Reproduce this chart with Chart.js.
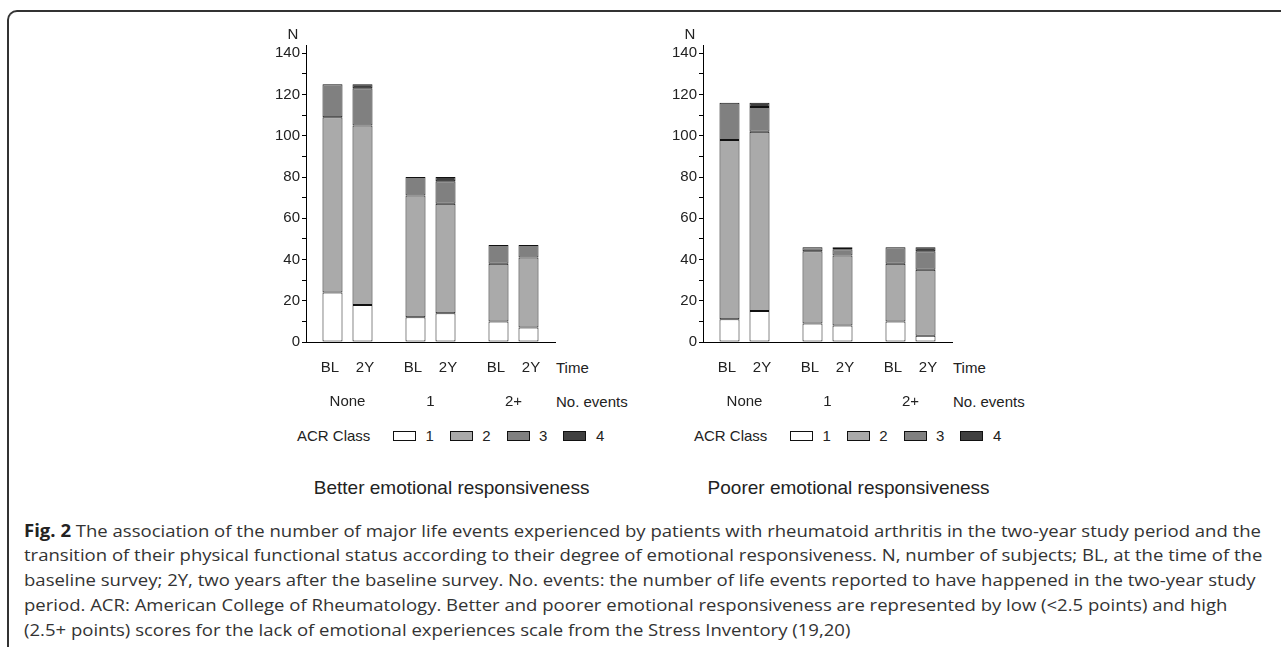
<!DOCTYPE html>
<html><head><meta charset="utf-8">
<script src="https://cdn.jsdelivr.net/npm/chart.js@4.4.0/dist/chart.umd.min.js"></script>
<style>
html,body{margin:0;padding:0;background:#fff;width:1281px;height:647px;overflow:hidden;position:relative;font-family:"Liberation Sans",Arial,sans-serif;}
.frame{position:absolute;left:7px;top:10px;width:1274px;height:637px;border-left:2px solid #333;border-top:2px solid #333;border-top-left-radius:10px;box-sizing:border-box;}
.cw{position:absolute;top:20px;width:300px;height:400px;}
.t{position:absolute;font-size:15px;color:#222;white-space:nowrap;line-height:18px;}
.sub{position:absolute;font-size:19px;color:#222;white-space:nowrap;line-height:22px;}
.box{position:absolute;width:21px;height:8px;border:1px solid #111;}
.cap{position:absolute;left:24px;font-family:"Open Sans",sans-serif;font-size:17px;color:#333;white-space:nowrap;line-height:25px;transform-origin:0 50%;}
.cap b{color:#222;}
</style>
</head>
<body>
<div class="frame"></div>
<div class="cw" id="w0" style="left:256px"><canvas id="c0" width="300" height="400"></canvas></div>
<div class="cw" id="w1" style="left:653px"><canvas id="c1" width="300" height="400"></canvas></div>
<div id="overlay"></div>
<div id="caption"></div>
<script>
// ---- data ----
const categories = ['None', '1', '2+'];
const times = ['BL', '2Y'];
const acrClasses = ['1', '2', '3', '4'];
const panelTitles = ['Better emotional responsiveness', 'Poorer emotional responsiveness'];
const yTickLabels = [0, 20, 40, 60, 80, 100, 120, 140];

// Better emotional responsiveness
const betterBL1 = [24, 12, 10];
const betterBL2 = [85, 59, 28];
const betterBL3 = [16, 9, 9];
const betterBL4 = [0, 0, 0];
const better2Y1 = [18, 14, 7];
const better2Y2 = [87, 53, 34];
const better2Y3 = [18, 11, 6];
const better2Y4 = [2, 2, 0];

// Poorer emotional responsiveness
const poorerBL1 = [11, 9, 10];
const poorerBL2 = [87, 35, 28];
const poorerBL3 = [18, 2, 8];
const poorerBL4 = [0, 0, 0];
const poorer2Y1 = [15, 8, 3];
const poorer2Y2 = [87, 34, 32];
const poorer2Y3 = [12, 3, 9];
const poorer2Y4 = [2, 1, 2];

const captionLines = [
  ['Fig. 2', ' The association of the number of major life events experienced by patients with rheumatoid arthritis in the two-year study period and the'],
  ['', 'transition of their physical functional status according to their degree of emotional responsiveness. N, number of subjects; BL, at the time of the'],
  ['', 'baseline survey; 2Y, two years after the baseline survey. No. events: the number of life events reported to have happened in the two-year study'],
  ['', 'period. ACR: American College of Rheumatology. Better and poorer emotional responsiveness are represented by low (<2.5 points) and high'],
  ['', '(2.5+ points) scores for the lack of emotional experiences scale from the Stress Inventory (19,20)']
];

// ---- styles ----
const classColors = ['#ffffff', '#aaaaaa', '#808080', '#404040'];
const FONT = '"Liberation Sans", Arial, sans-serif';
const TXT = '#222';

const panelData = [
  {BL: [betterBL1, betterBL2, betterBL3, betterBL4], Y2: [better2Y1, better2Y2, better2Y3, better2Y4]},
  {BL: [poorerBL1, poorerBL2, poorerBL3, poorerBL4], Y2: [poorer2Y1, poorer2Y2, poorer2Y3, poorer2Y4]}
];

function buildDatasets(p) {
  const ds = [];
  [p.BL, p.Y2].forEach((series, ti) => {
    series.forEach((arr, k) => {
      ds.push({
        label: acrClasses[k],
        data: arr,
        stack: times[ti],
        backgroundColor: classColors[k],
        borderColor: '#111',
        borderWidth: 1,
        borderSkipped: false,
        categoryPercentage: 0.723,
        barPercentage: 0.667
      });
    });
  });
  return ds;
}

const charts = [];
panelData.forEach((p, i) => {
  const ch = new Chart(document.getElementById('c' + i), {
    type: 'bar',
    data: {
      labels: categories.map(c => [times.join('    '), c]),
      datasets: buildDatasets(p)
    },
    options: {
      responsive: false,
      animation: false,
      devicePixelRatio: 1,
      layout: {padding: {top: 25, right: 1, left: 0, bottom: 0}},
      plugins: {legend: {display: false}, tooltip: {enabled: false}},
      scales: {
        x: {
          stacked: true,
          offset: true,
          grid: {display: false, drawTicks: false},
          border: {display: true, color: '#000', width: 1},
          ticks: {autoSkip: false, maxRotation: 0, minRotation: 0, padding: 9, color: TXT,
                  font: {family: FONT, size: 15, lineHeight: 34 / 15}},
          afterFit(s) { s.height = 78; }
        },
        y: {
          stacked: true,
          min: 0,
          max: 144,
          grid: {display: true, drawOnChartArea: false, drawTicks: true, tickLength: 4,
                 tickColor: ctx => (ctx.tick && ctx.tick.value % 10 === 0) ? '#000' : 'rgba(0,0,0,0)'},
          border: {display: true, color: '#000', width: 1},
          ticks: {stepSize: 10, includeBounds: false, autoSkip: false, padding: 2, color: TXT,
                  font: {family: FONT, size: 15},
                  callback: v => yTickLabels.includes(v) ? String(v) : ''},
          afterFit(s) { s.width = 50; }
        }
      }
    }
  });
  charts.push(ch);
});

// ---- overlays (axis title, row captions, legend, panel titles) ----
const ov = document.getElementById('overlay');
function addText(cls, txt, x, y, align) {
  const d = document.createElement('div');
  d.className = cls;
  d.textContent = txt;
  ov.appendChild(d);
  const r = d.getBoundingClientRect();
  let left = x;
  if (align === 'center') left = x - r.width / 2;
  d.style.left = left + 'px';
  d.style.top = (y - r.height / 2) + 'px';
  return d;
}
charts.forEach((ch, i) => {
  const wrap = document.getElementById('w' + i);
  const ox = wrap.offsetLeft, oy = wrap.offsetTop;
  const ca = ch.chartArea;
  const x0 = ox + ca.left, x1 = ox + ca.right;
  const yTop = oy + ca.top, yBot = oy + ca.bottom;
  addText('t', 'N', x0 - 13, yTop - 11, 'center');
  addText('t', 'Time', x1 + 1, yBot + 26, 'left');
  addText('t', 'No. events', x1 + 1, yBot + 60, 'left');
  const ly = yBot + 94;
  addText('t', 'ACR Class', x0 - 9, ly, 'left');
  acrClasses.forEach((c, k) => {
    const b = document.createElement('div');
    b.className = 'box';
    b.style.background = classColors[k];
    b.style.left = (x0 + 87 + k * 56.8) + 'px';
    b.style.top = (ly - 5) + 'px';
    ov.appendChild(b);
    addText('t', c, x0 + 87 + k * 56.8 + 32.5, ly, 'left');
  });
  addText('sub', panelTitles[i], x0 + 145.6, 488, 'center');
});

// ---- caption ----
const capEl = document.getElementById('caption');
let capScale = 1;
captionLines.forEach((ln, i) => {
  const d = document.createElement('div');
  d.className = 'cap';
  if (ln[0]) { const b = document.createElement('b'); b.textContent = ln[0]; d.appendChild(b); }
  d.appendChild(document.createTextNode(ln[1]));
  d.style.top = (530 + i * 24.9 - 12.5) + 'px';
  capEl.appendChild(d);
  if (i === 0) capScale = (1261 - 24) / d.getBoundingClientRect().width;
  d.style.transform = 'scaleX(' + capScale + ')';
});
</script>
</body></html>
